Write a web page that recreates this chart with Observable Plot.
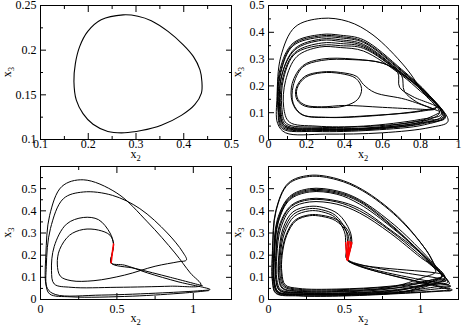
<!DOCTYPE html>
<html><head><meta charset="utf-8">
<script src="https://cdn.jsdelivr.net/npm/d3@7"></script>
<script src="https://cdn.jsdelivr.net/npm/@observablehq/plot@0.6"></script>
<style>
body{margin:0;background:#fff}
#c{position:relative;width:463px;height:328px;overflow:hidden;background:#fff}
#c svg{position:absolute;max-width:none}
</style></head><body><div id="c"></div>
<script>
// ---------- Panel 1: periodic orbit (x2, x3) ----------
const p1X = [0.273,0.227,0.199,0.182,0.173,0.170,0.175,0.189,0.210,0.241,0.276,0.311,0.353,0.395,0.423,0.437,0.438,0.434,0.420,0.399,0.367,0.332,0.304];
const p1Y = [0.2395,0.234,0.221,0.204,0.185,0.165,0.144,0.129,0.117,0.109,0.1075,0.110,0.116,0.127,0.139,0.152,0.165,0.178,0.193,0.206,0.221,0.233,0.238];

// ---------- Panel 2: chaotic attractor, loops as [x2, x3] points ----------
const p2Loops = [
 [[0.9,0.105],[0.72,0.15],[0.56,0.175],[0.5,0.205],[0.465,0.235],[0.38,0.25],[0.28,0.252],[0.19,0.235],[0.145,0.19],[0.15,0.148],[0.19,0.125],[0.28,0.119],[0.4,0.125],[0.47,0.15],[0.49,0.19],[0.46,0.228],[0.38,0.246],[0.28,0.249],[0.195,0.232],[0.15,0.19],[0.155,0.15],[0.195,0.128],[0.28,0.122],[0.4,0.127],[0.6,0.12],[0.8,0.113],[0.87,0.112]],
 [[0.78,0.14],[0.715,0.18],[0.70,0.24],[0.62,0.28],[0.45,0.30],[0.28,0.30],[0.18,0.275],[0.125,0.21],[0.125,0.14],[0.17,0.095],[0.3,0.083],[0.55,0.09],[0.8,0.105],[0.885,0.12]],
 [[0.76,0.16],[0.69,0.195],[0.68,0.25],[0.6,0.285],[0.44,0.298],[0.28,0.295],[0.18,0.27],[0.13,0.2],[0.13,0.135],[0.18,0.092],[0.32,0.082],[0.58,0.09],[0.82,0.11],[0.89,0.125]],
 [[0.8,0.18],[0.7,0.24],[0.5,0.33],[0.38,0.343],[0.27,0.345],[0.15,0.31],[0.09,0.22],[0.08,0.12],[0.11,0.065],[0.25,0.05],[0.5,0.05],[0.8,0.075],[0.91,0.095]],
 [[0.81,0.18],[0.7,0.245],[0.5,0.345],[0.38,0.358],[0.28,0.36],[0.14,0.325],[0.075,0.23],[0.065,0.11],[0.09,0.055],[0.25,0.042],[0.55,0.045],[0.8,0.07],[0.92,0.085]],
 [[0.82,0.178],[0.7,0.25],[0.5,0.355],[0.38,0.372],[0.28,0.375],[0.14,0.34],[0.07,0.24],[0.06,0.11],[0.085,0.05],[0.25,0.038],[0.55,0.042],[0.82,0.065],[0.93,0.08]],
 [[0.83,0.175],[0.7,0.255],[0.5,0.362],[0.38,0.379],[0.28,0.382],[0.13,0.35],[0.065,0.25],[0.055,0.11],[0.08,0.048],[0.25,0.036],[0.55,0.04],[0.8,0.06],[0.915,0.09]],
 [[0.82,0.18],[0.7,0.258],[0.5,0.366],[0.38,0.384],[0.28,0.387],[0.13,0.355],[0.062,0.25],[0.052,0.11],[0.075,0.045],[0.25,0.034],[0.55,0.038],[0.82,0.06],[0.93,0.085]],
 [[0.82,0.175],[0.7,0.248],[0.5,0.35],[0.38,0.366],[0.28,0.37],[0.14,0.335],[0.07,0.24],[0.06,0.11],[0.085,0.052],[0.25,0.04],[0.55,0.043],[0.8,0.065],[0.9,0.1]],
 [[0.82,0.17],[0.72,0.27],[0.55,0.39],[0.42,0.44],[0.28,0.452],[0.14,0.42],[0.065,0.31],[0.045,0.16],[0.048,0.06],[0.09,0.025],[0.3,0.02],[0.6,0.025],[0.85,0.045],[0.945,0.068]],
 [[0.84,0.17],[0.7,0.262],[0.5,0.372],[0.38,0.389],[0.28,0.392],[0.13,0.36],[0.06,0.26],[0.05,0.11],[0.07,0.042],[0.25,0.03],[0.55,0.035],[0.82,0.055],[0.925,0.085]],
 [[0.83,0.175],[0.7,0.245],[0.5,0.34],[0.38,0.35],[0.28,0.352],[0.14,0.32],[0.08,0.23],[0.07,0.12],[0.095,0.06],[0.25,0.046],[0.55,0.05],[0.8,0.07],[0.9,0.1]]
];

// ---------- Panel 3: transient trajectory with red section ----------
const p3Red = [[0.462,0.165],[0.47,0.21],[0.478,0.25]];
const p3Loops = [
 [[1.06,0.062],[0.85,0.1],[0.62,0.14],...p3Red,[0.455,0.29],[0.38,0.313],[0.28,0.316],[0.19,0.29],[0.125,0.225],[0.11,0.16],[0.13,0.105],[0.2,0.085],[0.35,0.085],[0.55,0.11],[0.75,0.15],[0.9,0.17],[0.955,0.178]],
 [[0.93,0.215],[0.83,0.3],[0.65,0.41],[0.47,0.47],[0.28,0.485],[0.15,0.455],[0.065,0.32],[0.038,0.15],[0.045,0.05],[0.1,0.022],[0.4,0.02],[0.8,0.03],[1.05,0.04],[1.11,0.045]],
 [[0.9,0.08],[0.7,0.12],[0.55,0.155],...p3Red,[0.455,0.3],[0.38,0.36],[0.28,0.37],[0.17,0.34],[0.09,0.24],[0.072,0.13],[0.09,0.07],[0.2,0.055],[0.5,0.055],[0.85,0.06],[1.05,0.065]],
 [[0.98,0.12],[0.88,0.21],[0.7,0.35],[0.5,0.48],[0.28,0.54],[0.14,0.51],[0.06,0.38],[0.035,0.2],[0.035,0.07],[0.06,0.025],[0.2,0.012],[0.6,0.015],[0.95,0.03],[1.1,0.04]]
];

// ---------- Panel 4: attractor with red section ----------
const p4Hooks = [
 [[0.518,0.178],[0.522,0.22],[0.53,0.262]],
 [[0.52,0.18],[0.532,0.22],[0.542,0.26]],
 [[0.516,0.182],[0.512,0.22],[0.508,0.256]],
 [[0.52,0.176],[0.526,0.22],[0.52,0.262]],
 [[0.522,0.18],[0.536,0.22],[0.548,0.256]]
];
const p4Loops = [
 [[1.1,0.14],[1.05,0.21],[0.85,0.37],[0.62,0.49],[0.45,0.54],[0.27,0.555],[0.13,0.52],[0.05,0.4],[0.028,0.22],[0.028,0.08],[0.05,0.03],[0.2,0.018],[0.5,0.018],[0.9,0.03],[1.15,0.04],[1.21,0.043]],
 [...p4Hooks[0],[0.515,0.305],[0.44,0.356],[0.35,0.375],[0.27,0.378],[0.18,0.355],[0.12,0.29],[0.09,0.2],[0.088,0.12],[0.11,0.066],[0.2,0.05],[0.45,0.047],[0.8,0.06],[1.05,0.085],[1.14,0.1]],
 [[1.08,0.16],[1.02,0.2],[0.82,0.32],[0.6,0.43],[0.45,0.475],[0.27,0.485],[0.14,0.45],[0.065,0.35],[0.04,0.2],[0.04,0.08],[0.065,0.035],[0.2,0.025],[0.5,0.024],[0.9,0.038],[1.14,0.06],[1.2,0.06]],
 [...p4Hooks[1],[0.525,0.308],[0.45,0.36],[0.35,0.38],[0.27,0.382],[0.175,0.358],[0.115,0.29],[0.085,0.2],[0.083,0.12],[0.105,0.062],[0.2,0.046],[0.45,0.044],[0.8,0.057],[1.07,0.08],[1.16,0.092]],
 [[1.06,0.16],[1.0,0.19],[0.8,0.3],[0.6,0.39],[0.45,0.43],[0.27,0.44],[0.15,0.41],[0.08,0.32],[0.055,0.2],[0.055,0.09],[0.08,0.045],[0.2,0.032],[0.5,0.03],[0.85,0.045],[1.1,0.075],[1.17,0.085]],
 [...p4Hooks[2],[0.5,0.305],[0.44,0.37],[0.35,0.396],[0.27,0.4],[0.17,0.375],[0.105,0.3],[0.078,0.2],[0.076,0.11],[0.1,0.058],[0.2,0.042],[0.45,0.04],[0.8,0.055],[1.02,0.1],[1.1,0.125]],
 [[1.07,0.16],[1.02,0.2],[0.82,0.325],[0.6,0.44],[0.45,0.48],[0.27,0.49],[0.14,0.455],[0.062,0.35],[0.038,0.2],[0.038,0.08],[0.062,0.034],[0.2,0.024],[0.5,0.023],[0.9,0.036],[1.1,0.09],[1.15,0.11]],
 [...p4Hooks[3],[0.51,0.31],[0.44,0.38],[0.35,0.405],[0.27,0.41],[0.165,0.385],[0.1,0.31],[0.072,0.2],[0.07,0.1],[0.095,0.052],[0.2,0.038],[0.45,0.036],[0.8,0.05],[1.1,0.07],[1.18,0.078]],
 [[1.08,0.15],[0.98,0.21],[0.8,0.31],[0.6,0.4],[0.45,0.44],[0.27,0.45],[0.15,0.42],[0.075,0.33],[0.05,0.2],[0.05,0.09],[0.075,0.042],[0.2,0.03],[0.5,0.028],[0.85,0.042],[1.12,0.07],[1.19,0.07]],
 [[1.1,0.15],[1.04,0.22],[0.85,0.375],[0.62,0.495],[0.45,0.545],[0.27,0.56],[0.13,0.525],[0.048,0.4],[0.026,0.22],[0.026,0.08],[0.048,0.028],[0.2,0.016],[0.5,0.016],[0.9,0.028],[1.15,0.038],[1.2,0.04]],
 [...p4Hooks[4],[0.535,0.31],[0.46,0.385],[0.36,0.415],[0.27,0.42],[0.16,0.395],[0.095,0.32],[0.068,0.2],[0.066,0.1],[0.09,0.05],[0.2,0.036],[0.45,0.034],[0.8,0.048],[1.08,0.09],[1.15,0.11]],
 [[1.06,0.17],[1.0,0.21],[0.82,0.33],[0.6,0.445],[0.45,0.485],[0.27,0.495],[0.14,0.46],[0.06,0.355],[0.036,0.2],[0.036,0.08],[0.06,0.033],[0.2,0.023],[0.5,0.022],[0.9,0.035],[1.13,0.08],[1.17,0.09]],
 [[1.07,0.16],[0.99,0.215],[0.8,0.315],[0.6,0.41],[0.45,0.445],[0.27,0.455],[0.15,0.425],[0.072,0.335],[0.048,0.2],[0.048,0.09],[0.072,0.04],[0.2,0.029],[0.5,0.027],[0.85,0.04],[1.1,0.085],[1.16,0.1]],
 [[1.08,0.165],[1.02,0.21],[0.83,0.335],[0.6,0.45],[0.45,0.49],[0.27,0.5],[0.14,0.465],[0.058,0.36],[0.034,0.2],[0.034,0.08],[0.058,0.032],[0.2,0.022],[0.5,0.021],[0.9,0.034],[1.14,0.05],[1.19,0.052]]
];

// ---------- Axis ticks and labels ----------
const p1XTicks = [0.1,0.2,0.3,0.4,0.5], p1XMinor = [0.15,0.25,0.35,0.45];
const p1YTicks = [0.1,0.15,0.2,0.25], p1YMinor = [0.125,0.175,0.225];
const p2XTicks = [0,0.2,0.4,0.6,0.8,1], p2XMinor = [0.1,0.3,0.5,0.7,0.9];
const p2YTicks = [0,0.1,0.2,0.3,0.4,0.5], p2YMinor = [0.05,0.15,0.25,0.35,0.45];
const p34XTicks = [0,0.5,1], p34XMinor = [0.25,0.75];
const p34YTicks = [0,0.1,0.2,0.3,0.4,0.5], p34YMinor = [0.05,0.15,0.25,0.35,0.45,0.55];

const FONT = "'Liberation Serif','Times New Roman',serif";
const fmt = d => String(+d.toFixed(3));
const toPts = loops => loops.flatMap(l => l.map(([x, y]) => ({x, y})));

function panel(o) {
  const marks = [];
  for (const ln of o.lines) marks.push(Plot.line(ln.data, {x: "x", y: "y", z: ln.z, curve: ln.curve, stroke: ln.stroke, strokeWidth: ln.sw, clip: true}));
  marks.push(
    Plot.axisX(o.xT, {anchor: "bottom", tickSize: -6, fill: "none", label: null}),
    Plot.axisX(o.xM, {anchor: "bottom", tickSize: -3, fill: "none", label: null}),
    Plot.axisX(o.xT, {anchor: "top", tickSize: -6, fill: "none", label: null}),
    Plot.axisX(o.xM, {anchor: "top", tickSize: -3, fill: "none", label: null}),
    Plot.axisY(o.yT, {anchor: "left", tickSize: -6, fill: "none", label: null}),
    Plot.axisY(o.yM, {anchor: "left", tickSize: -3, fill: "none", label: null}),
    Plot.axisY(o.yT, {anchor: "right", tickSize: -6, fill: "none", label: null}),
    Plot.axisY(o.yM, {anchor: "right", tickSize: -3, fill: "none", label: null}),
    Plot.axisX(o.xT, {anchor: "bottom", tickSize: 0, tickPadding: o.xPad, tickFormat: fmt, label: null, fill: "#000"}),
    Plot.axisY(o.yL || o.yT, {anchor: "left", tickSize: 0, tickPadding: 4, tickFormat: fmt, label: null, fill: "#000"}),
    Plot.frame({stroke: "#000", strokeWidth: 1})
  );
  const svg = Plot.plot({
    width: o.W, height: o.H,
    marginLeft: o.ml, marginRight: o.mr, marginTop: o.mt, marginBottom: o.mb,
    x: {domain: o.xd}, y: {domain: o.yd},
    style: {fontFamily: FONT, fontSize: "12px", background: "transparent", color: "#000"},
    marks
  });
  svg.style.left = o.left + "px";
  svg.style.top = o.top + "px";
  const s = d3.select(svg);
  const fx = o.ml + (o.W - o.ml - o.mr) / 2;
  const xt = s.append("text").attr("x", fx).attr("y", o.xTitleY).attr("text-anchor", "middle")
    .attr("font-family", FONT).attr("font-size", 12).attr("fill", "#000");
  xt.append("tspan").text("x");
  xt.append("tspan").attr("font-size", 8.5).attr("dy", 3).text("2");
  const fy = o.mt + (o.H - o.mt - o.mb) / 2;
  const yt = s.append("text").attr("transform", `translate(${o.yTitleX},${fy}) rotate(-90)`).attr("text-anchor", "middle")
    .attr("font-family", FONT).attr("font-size", 12).attr("fill", "#000");
  yt.append("tspan").text("x");
  yt.append("tspan").attr("font-size", 8.5).attr("dy", 3).text("3");
  document.getElementById("c").appendChild(svg);
}

const p1Data = p1X.map((x, i) => ({x, y: p1Y[i]}));

panel({left: 0, top: 0, W: 240, H: 164, ml: 40, mr: 9, mt: 5, mb: 25, xd: [0.1, 0.5], yd: [0.1, 0.25],
  xT: p1XTicks, xM: p1XMinor, yT: p1YTicks, yM: p1YMinor, xPad: 0, xTitleY: 158, yTitleX: 11,
  lines: [{data: p1Data, curve: "catmull-rom-closed", stroke: "#000", sw: 1.1}]});

panel({left: 231, top: 0, W: 232, H: 164, ml: 37, mr: 5, mt: 5, mb: 25, xd: [0, 1], yd: [0, 0.5],
  xT: p2XTicks, xM: p2XMinor, yT: p2YTicks, yM: p2YMinor, xPad: 0, xTitleY: 158, yTitleX: 10,
  lines: [{data: toPts(p2Loops), curve: "catmull-rom", stroke: "#000", sw: 1}]});

panel({left: 0, top: 164, W: 240, H: 164, ml: 40, mr: 9, mt: 2, mb: 29, xd: [0, 1.25], yd: [0, 0.6],
  xT: p34XTicks, xM: p34XMinor, yT: [...p34YTicks, 0.6], yL: p34YTicks, yM: p34YMinor, xPad: 5, xTitleY: 158, yTitleX: 11,
  lines: [{data: toPts(p3Loops), curve: "catmull-rom", stroke: "#000", sw: 1},
          {data: p3Red.map(([x, y]) => ({x, y})), curve: "catmull-rom", stroke: "#ff0000", sw: 1.6}]});

panel({left: 231, top: 164, W: 232, H: 164, ml: 37, mr: 5, mt: 2, mb: 29, xd: [0, 1.25], yd: [0, 0.6],
  xT: p34XTicks, xM: p34XMinor, yT: [...p34YTicks, 0.6], yL: p34YTicks, yM: p34YMinor, xPad: 5, xTitleY: 158, yTitleX: 10,
  lines: [{data: toPts(p4Loops), curve: "catmull-rom", stroke: "#000", sw: 1},
          {data: p4Hooks.flatMap((h, i) => h.map(([x, y]) => ({x, y, k: i}))), z: "k", curve: "catmull-rom", stroke: "#ff0000", sw: 1.5}]});
</script></body></html>
